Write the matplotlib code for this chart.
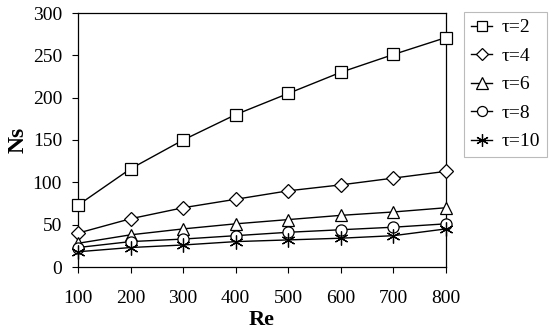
import matplotlib
matplotlib.use("Agg")
import matplotlib.pyplot as plt

re_vals = [100, 200, 300, 400, 500, 600, 700, 800]
ns_tau2 = [73, 116, 150, 180, 205, 230, 251, 271]
ns_tau4 = [40, 57, 70, 80, 90, 97, 105, 113]
ns_tau6 = [28, 38, 45, 51, 56, 61, 65, 70]
ns_tau8 = [23, 30, 33, 37, 41, 44, 47, 51]
ns_tau10 = [18, 23, 26, 30, 32, 34, 37, 45]
labels = ["τ=2", "τ=4", "τ=6", "τ=8", "τ=10"]

plt.rcParams['font.family'] = ['Liberation Serif', 'DejaVu Serif']

fig = plt.figure(figsize=(5.5, 3.3), dpi=100)
ax = fig.add_axes([78/550, 1 - 267/330, (446-78)/550, (267-13)/330])

series = [ns_tau2, ns_tau4, ns_tau6, ns_tau8, ns_tau10]
markers = ['s', 'D', '^', 'o', (6, 2, 0)]
sizes = [8, 7, 9, 8, 10]
for s, m, ms, lab in zip(series, markers, sizes, labels):
    ax.plot(re_vals, s, color='black', lw=1.0, marker=m, ms=ms,
            mfc='white', mec='black', mew=0.9, label=lab, clip_on=False, zorder=3)

ax.set_xlim(100, 800)
ax.set_ylim(0, 300)
ax.set_xticks(re_vals)
ax.set_yticks(range(0, 301, 50))
ax.tick_params(direction='out', length=4.5, width=0.8, labelsize=14)
ax.tick_params(axis='y', pad=7)
ax.tick_params(axis='x', pad=12)
for sp in ax.spines.values():
    sp.set_linewidth(0.9)

ax.set_xlabel("Re", fontsize=16, fontweight='bold', labelpad=2)
ax.set_ylabel("Ns", fontsize=17, fontweight='bold', labelpad=3)

leg = ax.legend(loc='upper left', bbox_to_anchor=(464/550, 1 - 12/330),
                bbox_transform=fig.transFigure, fontsize=14, frameon=True,
                fancybox=False, edgecolor='#aaaaaa', handlelength=1.1,
                handletextpad=0.5, labelspacing=0.56, borderpad=0.35,
                borderaxespad=0, markerscale=0.9)
leg.get_frame().set_linewidth(0.8)

fig.savefig("out.png", dpi=100)
